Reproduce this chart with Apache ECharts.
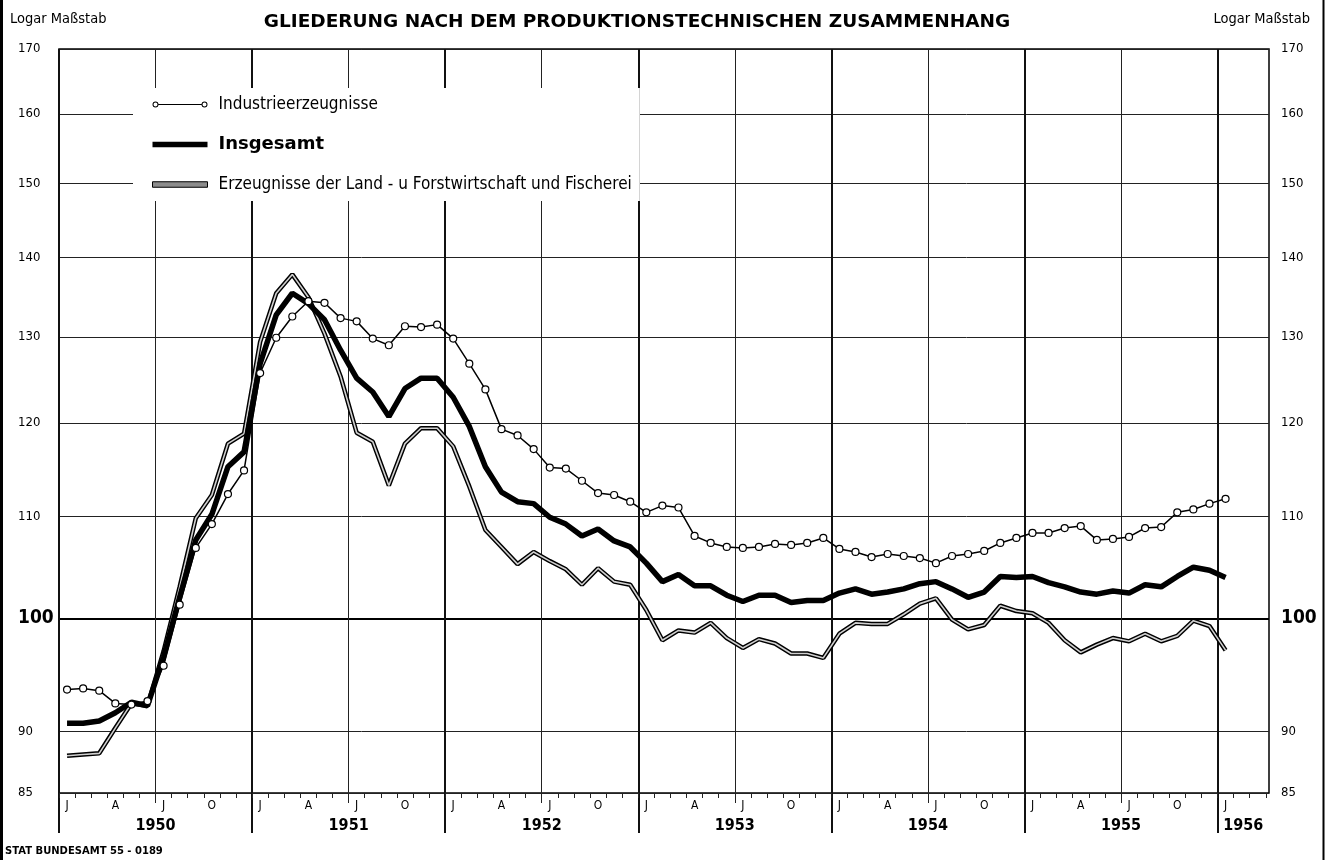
<!DOCTYPE html>
<html><head><meta charset="utf-8">
<script src="https://cdn.jsdelivr.net/npm/echarts@6/dist/echarts.min.js"></script>
<style>html,body{margin:0;padding:0;background:#fff}#c{width:1327px;height:860px}</style>
</head><body><div id="c"></div>
<script>
// Monthly index (1950 = 100 basis), Jan 1950 .. Jan 1956
const yearLabels = ['1950', '1951', '1952', '1953', '1954', '1955', '1956'];
const quarterLetters = ['J', 'A', 'J', 'O'];
const yTicks = [85, 90, 100, 110, 120, 130, 140, 150, 160, 170];
const seriesNames = ['Industrieerzeugnisse', 'Insgesamt', 'Erzeugnisse der Land - u Forstwirtschaft und Fischerei'];

const industrie = [93.6, 93.7, 93.5, 92.4, 92.3, 92.6, 95.7, 101.3, 106.8, 109.2, 112.3, 114.8,
  125.7, 129.9, 132.5, 134.4, 134.2, 132.3, 131.9, 129.8, 129.0, 131.3, 131.2, 131.5,
  129.8, 126.8, 123.8, 119.3, 118.6, 117.1, 115.1, 115.0, 113.7, 112.4, 112.2, 111.5,
  110.4, 111.1, 110.9, 108.0, 107.3, 106.9, 106.8, 106.9, 107.2, 107.1, 107.3, 107.8,
  106.7, 106.4, 105.9, 106.2, 106.0, 105.8, 105.3, 106.0, 106.2, 106.5, 107.3, 107.8,
  108.3, 108.3, 108.8, 109.0, 107.6, 107.7, 107.9, 108.8, 108.9, 110.4, 110.7, 111.3,
  111.8];
const insgesamt = [90.7, 90.7, 90.9, 91.6, 92.5, 92.2, 96.5, 102.0, 107.6, 110.2, 115.2, 116.8,
  126.8, 132.7, 135.4, 134.1, 132.1, 128.4, 125.1, 123.5, 120.7, 123.9, 125.1, 125.1,
  122.9, 119.6, 115.2, 112.5, 111.5, 111.3, 109.9, 109.2, 108.0, 108.7, 107.5, 106.9,
  105.3, 103.5, 104.2, 103.1, 103.1, 102.2, 101.6, 102.2, 102.2, 101.5, 101.7, 101.7,
  102.4, 102.8, 102.3, 102.5, 102.8, 103.3, 103.5, 102.8, 102.0, 102.5, 104.0, 103.9,
  104.0, 103.4, 103.0, 102.5, 102.3, 102.6, 102.4, 103.2, 103.0, 104.0, 104.9, 104.6,
  103.9];
const landForst = [88.0, 88.1, 88.2, 90.3, 92.4, 92.2, 97.0, 103.0, 109.8, 112.2, 117.7, 118.8,
  129.4, 135.4, 137.8, 134.9, 130.4, 125.3, 118.9, 117.9, 113.2, 117.7, 119.4, 119.4,
  117.4, 113.1, 108.6, 106.9, 105.2, 106.4, 105.5, 104.7, 103.2, 104.8, 103.5, 103.2,
  100.8, 98.0, 98.9, 98.7, 99.6, 98.2, 97.3, 98.1, 97.7, 96.8, 96.8, 96.4,
  98.6, 99.6, 99.5, 99.5, 100.4, 101.4, 101.9, 99.9, 99.0, 99.4, 101.2, 100.7,
  100.5, 99.6, 98.0, 96.9, 97.6, 98.2, 97.9, 98.6, 97.9, 98.4, 99.8, 99.3,
  97.1];

// points sit in the middle of each month (x = month index + 0.5)
const pts = arr => arr.map((v, i) => [i + 0.5, v]);

const COND = '"DejaVu Sans Condensed","Liberation Sans Narrow","DejaVu Sans",sans-serif';
const XMAX = 75.2;
const yearBounds = yearLabels.map((_, i) => i * 12);
const yearMids = yearLabels.map((_, i) => i < 6 ? i * 12 + 6 : 73.6);
const halfYears = yearLabels.slice(0, 6).map((_, i) => i * 12 + 6);
const monthBounds = []; for (let m = 0; m <= 75; m++) monthBounds.push(m);
const quarterPos = []; for (let q = 0; q * 3 < industrie.length; q++) quarterPos.push(q * 3 + 0.5);

const xBase = { type: 'value', min: 0, max: XMAX, position: 'bottom', axisLine: { show: false } };
const yLabelRich = {
  n: { fontSize: 13, fontFamily: COND, color: '#000' },
  b: { fontSize: 19, fontFamily: COND, fontWeight: 'bold', color: '#000' }
};
const yFmt = v => { const r = Math.round(v); return r === 100 ? '{b|100}' : '{n|' + r + '}'; };

// legend icons
const ICON_CIRCLES = 'path://M6,2.4h43v1.2H6z' +
  'M0,3a3,3 0 1,0 6,0a3,3 0 1,0 -6,0z M1,3a2,2 0 1,1 4,0a2,2 0 1,1 -4,0z' +
  'M49,3a3,3 0 1,0 6,0a3,3 0 1,0 -6,0z M50,3a2,2 0 1,1 4,0a2,2 0 1,1 -4,0z';
const ICON_BAR = 'path://M0,0h55v5.5H0z';

const chart = echarts.init(document.getElementById('c'), null, { renderer: 'canvas' });
chart.setOption({
  animation: false,
  backgroundColor: '#fff',
  grid: { left: 59, right: 58, top: 49, bottom: 67, show: true, borderColor: '#000', borderWidth: 1.5, backgroundColor: 'transparent' },
  xAxis: [
    Object.assign({}, xBase, {
      interval: 12,
      splitLine: { show: true, lineStyle: { color: '#111', width: 2 } },
      axisTick: { show: true, customValues: yearBounds, length: 40, lineStyle: { color: '#111', width: 2 } },
      axisLabel: { customValues: yearMids, margin: 25, fontSize: 16, fontWeight: 'bold', fontFamily: COND, color: '#000',
        formatter: v => yearLabels[Math.min(Math.floor(v / 12), 6)] }
    }),
    Object.assign({}, xBase, {
      interval: 6,
      splitLine: { show: true, lineStyle: { color: '#222', width: 1 } },
      axisTick: { show: true, customValues: halfYears, length: 10, lineStyle: { color: '#222', width: 1 } },
      axisLabel: { customValues: quarterPos, margin: 7, fontSize: 12, fontFamily: COND, color: '#000',
        formatter: v => quarterLetters[Math.floor(v / 3) % 4] }
    }),
    Object.assign({}, xBase, {
      interval: 1,
      splitLine: { show: false },
      axisTick: { show: true, customValues: monthBounds, length: 5, lineStyle: { color: '#222', width: 1 } },
      axisLabel: { show: false }
    })
  ],
  yAxis: [
    { type: 'log', min: 85, max: 170, position: 'left', axisLine: { show: false },
      axisTick: { show: false, customValues: yTicks },
      splitLine: { show: true, lineStyle: { color: '#222', width: 1 } },
      axisLabel: { customValues: yTicks, align: 'left', margin: 41, formatter: yFmt, rich: yLabelRich } },
    { type: 'log', min: 85, max: 170, position: 'right', axisLine: { show: false },
      axisTick: { show: false, customValues: [100] },
      splitLine: { show: true, lineStyle: { color: '#000', width: 2 } },
      axisLabel: { customValues: yTicks, align: 'left', margin: 12, formatter: yFmt, rich: yLabelRich } }
  ],
  legend: {
    orient: 'vertical', left: 133, top: 88, padding: [8, 8, 8, 19], itemGap: 22.5,
    itemWidth: 55, itemHeight: 14, backgroundColor: '#fff', z: 10,
    data: [
      { name: seriesNames[0], icon: ICON_CIRCLES, itemStyle: { color: '#000', borderWidth: 0 } },
      { name: seriesNames[1], icon: ICON_BAR, itemStyle: { color: '#000', borderWidth: 0 } },
      { name: seriesNames[2], icon: ICON_BAR, itemStyle: { color: '#8c8c8c', borderColor: '#000', borderWidth: 1 } }
    ],
    formatter: n => n === seriesNames[1] ? '{b|' + n + '}' : '{n|' + n + '}',
    textStyle: {
      rich: {
        n: { fontSize: 17, fontFamily: COND, color: '#000', padding: [0, 0, 0, 6] },
        b: { fontSize: 18, fontFamily: '"DejaVu Sans",sans-serif', fontWeight: 'bold', color: '#000', padding: [0, 0, 0, 6] }
      }
    }
  },
  series: [
    { name: seriesNames[2], type: 'line', data: pts(landForst), symbol: 'none', color: '#000',
      lineStyle: { color: '#000', width: 4.5 }, z: 2 },
    { name: 'inner', type: 'line', data: pts(landForst), symbol: 'none', color: '#ddd', silent: true,
      lineStyle: { color: '#d0d0d0', width: 1.6 }, z: 3 },
    { name: seriesNames[1], type: 'line', data: pts(insgesamt), symbol: 'none', color: '#000',
      lineStyle: { color: '#000', width: 5.5 }, z: 4 },
    { name: seriesNames[0], type: 'line', data: pts(industrie), symbol: 'circle', symbolSize: 7, showSymbol: true, color: '#000',
      itemStyle: { color: '#fff', borderColor: '#000', borderWidth: 1.2 },
      lineStyle: { color: '#000', width: 1.5 }, z: 5 }
  ],
  graphic: [
    { type: 'text', x: 637, y: 22, style: { text: 'GLIEDERUNG NACH DEM PRODUKTIONSTECHNISCHEN ZUSAMMENHANG',
      font: 'bold 18.5px "DejaVu Sans",sans-serif', fill: '#000', textAlign: 'center', textVerticalAlign: 'middle' } },
    { type: 'text', x: 10, y: 19, style: { text: 'Logar Maßstab', font: '14.5px ' + COND, fill: '#000', textAlign: 'left', textVerticalAlign: 'middle' } },
    { type: 'text', x: 1310, y: 19, style: { text: 'Logar Maßstab', font: '14.5px ' + COND, fill: '#000', textAlign: 'right', textVerticalAlign: 'middle' } },
    { type: 'text', x: 5, y: 851, style: { text: 'STAT BUNDESAMT 55 - 0189', font: 'bold 10px "DejaVu Sans",sans-serif', fill: '#000', textAlign: 'left', textVerticalAlign: 'middle' } },
    { type: 'line', shape: { x1: 1.5, y1: 0, x2: 1.5, y2: 860 }, style: { stroke: '#000', lineWidth: 3 } },
    { type: 'line', shape: { x1: 1323.5, y1: 0, x2: 1323.5, y2: 860 }, style: { stroke: '#000', lineWidth: 2 } }
  ]
});
</script>
</body></html>
